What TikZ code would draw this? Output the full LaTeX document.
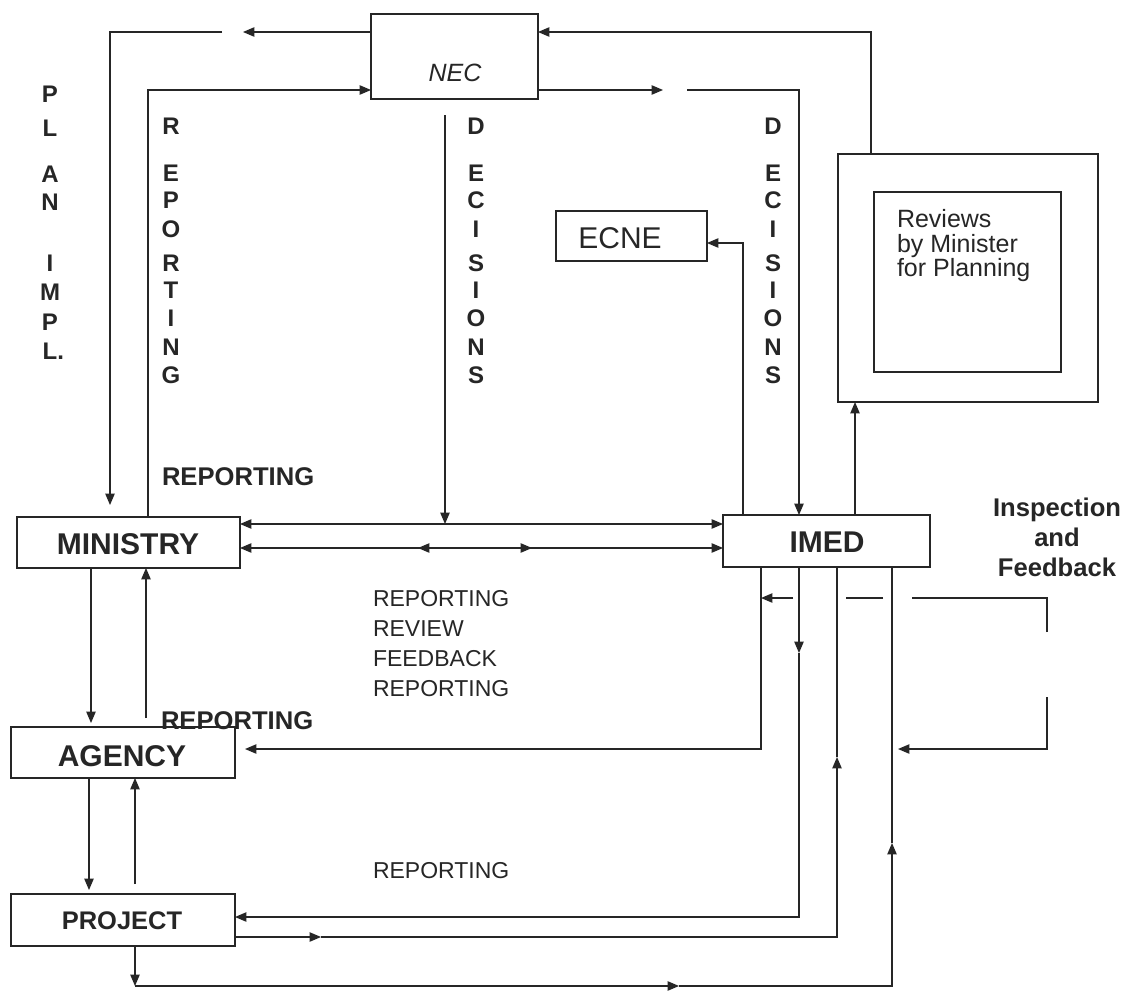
\documentclass[tikz,border=0pt]{standalone}
\usepackage{fontspec}
\setmainfont{Liberation Sans}
\usetikzlibrary{arrows.meta}
\definecolor{ink}{HTML}{262626}
\begin{document}
\begin{tikzpicture}[x=0.75pt,y=-0.75pt,
  line width=0.9pt, draw=ink,
  >={Triangle[length=8.5pt,width=7pt]},
  box/.style={draw=ink, line width=0.9pt, inner sep=0pt, outer sep=0pt},
  lbl/.style={text=ink, inner sep=0pt, outer sep=0pt},
  vlet/.style={lbl, anchor=base, font=\fontsize{18}{18}\selectfont\bfseries},
  bigb/.style={lbl, anchor=base, font=\fontsize{22.5}{27}\selectfont\bfseries},
  repb/.style={lbl, anchor=base west, font=\fontsize{19.2}{22}\selectfont\bfseries},
  midt/.style={lbl, anchor=base west, font=\fontsize{17.25}{20}\selectfont},
  revt/.style={lbl, anchor=base west, font=\fontsize{18.75}{20}\selectfont},
  insp/.style={lbl, anchor=base, font=\fontsize{19.2}{22}\selectfont\bfseries}
]
\useasboundingbox (0,0) rectangle (1127,992);
\fill[white] (0,0) rectangle (1127,992);

% ---- boxes
\node[box, minimum width=167*0.75pt, minimum height=85*0.75pt] (nec) at (454.5,56.5) {};
\node[box, minimum width=151*0.75pt, minimum height=50*0.75pt] (ecne) at (631.5,236) {};
\node[box, minimum width=260*0.75pt, minimum height=248*0.75pt] (reviews) at (968,278) {};
\node[box, minimum width=187*0.75pt, minimum height=180*0.75pt] (reviewsin) at (967.5,282) {};
\node[box, minimum width=223*0.75pt, minimum height=51*0.75pt] (ministry) at (128.5,542.5) {};
\node[box, minimum width=207*0.75pt, minimum height=52*0.75pt] (imed) at (826.5,541) {};
\node[box, minimum width=224*0.75pt, minimum height=51*0.75pt] (agency) at (123,752.5) {};
\node[box, minimum width=224*0.75pt, minimum height=52*0.75pt] (project) at (123,920) {};

% ---- box texts
\node[lbl, anchor=base, font=\fontsize{18.75}{20}\selectfont\itshape] (nect) at (455,81) {NEC};
\node[lbl, anchor=base, font=\fontsize{22.5}{27}\selectfont] (ecnet) at (620,248) {ECNE};
\node[revt] (rv1) at (897,227) {Reviews};
\node[revt] (rv2) at (897,252) {by Minister};
\node[revt] (rv3) at (897,276) {for Planning};
\node[bigb] (ministryt) at (128,554) {MINISTRY};
\node[bigb] (imedt) at (827,552) {IMED};
\node[bigb] (agencyt) at (122,766) {AGENCY};
\node[lbl, anchor=base, font=\fontsize{19.1}{22}\selectfont\bfseries] (projectt) at (122,929) {PROJECT};

% ---- vertical letter columns
\foreach \t/\y [count=\i] in {P/94,L/128,A/174,N/202,I/263,M/292,P/322}
  \node[vlet] (pl\i) at (50,\y+8.6) {\t};
\node[vlet] (pl8) at (50,359.6) {L\rlap{.}};
\foreach \t/\y [count=\i] in {R/126,E/173,P/200,O/229,R/263,T/290,I/318,N/347,G/375}
  \node[vlet] (rp\i) at (171,\y+8.6) {\t};
\foreach \t/\y [count=\i] in {D/126,E/173,C/200,I/229,S/263,I/290,O/318,N/347,S/375}
  \node[vlet] (dm\i) at (476,\y+8.6) {\t};
\foreach \t/\y [count=\i] in {D/126,E/173,C/200,I/229,S/263,I/290,O/318,N/347,S/375}
  \node[vlet] (dr\i) at (773,\y+8.6) {\t};

% ---- other labels
\node[repb] (rep1) at (162,485) {REPORTING};
\node[repb] (rep2) at (161,729) {REPORTING};
\node[midt] (mt1) at (373,606) {REPORTING};
\node[midt] (mt2) at (373,636) {REVIEW};
\node[midt] (mt3) at (373,666) {FEEDBACK};
\node[midt] (mt4) at (373,696) {REPORTING};
\node[midt] (mt5) at (373,878) {REPORTING};
\node[insp] (in1) at (1057,516) {Inspection};
\node[insp] (in2) at (1057,546) {and};
\node[insp] (in3) at (1057,576) {Feedback};

% ---- coordinates
\coordinate (tA) at (243,32); \coordinate (tB) at (222,32);
\coordinate (tC) at (110,32); \coordinate (tD) at (110,505);
\coordinate (rA) at (148,90);
\coordinate (dM) at (445,115); \coordinate (dM2) at (445,524);
\coordinate (nR1) at (663,90); \coordinate (nR2) at (687,90); \coordinate (nR3) at (799,90);
\coordinate (tR) at (871,32);
\coordinate (eA) at (743,243);
\coordinate (rv) at (855,400);
\coordinate (rvTip) at (855,408);
\coordinate (h1) at (0,524); \coordinate (h2) at (0,548);
\coordinate (hm) at (475,548); \coordinate (hl) at (418,548); \coordinate (hr) at (532,548);
\coordinate (m1) at (91,723); \coordinate (m2) at (146,718);
\coordinate (a1) at (89,890); \coordinate (a2) at (135,884);
\coordinate (i1) at (761,749); \coordinate (agIn) at (245,749);
\coordinate (i2) at (799,653); \coordinate (i2b) at (799,917);
\coordinate (p1) at (321,937); \coordinate (p1b) at (837,937); \coordinate (p1c) at (837,757);
\coordinate (b0) at (135,986); \coordinate (b1) at (679,986);
\coordinate (b2) at (892,986); \coordinate (b3) at (892,843);
\coordinate (k1) at (1047,632); \coordinate (k2) at (1047,598); \coordinate (k3) at (912,598);
\coordinate (k4) at (883,598); \coordinate (k5) at (846,598);
\coordinate (k6) at (793,598); \coordinate (k7) at (761,598);
\coordinate (q1) at (1047,697); \coordinate (q2) at (1047,749); \coordinate (q3) at (898,749);

% ---- connectors: top
\draw[->] (nec.west |- tA) -- (tA);
\draw[->] (tB) -- (tC) -- (tD);
\draw[->] (ministry.north -| rA) -- (rA) -- (nec.west |- rA);
\draw[->] (dM) -- (dM2);
\draw[->] (nec.east |- nR1) -- (nR1);
\draw[->] (nR2) -- (nR3) -- (imed.north -| nR3);
\draw[->] (reviews.north -| tR) -- (tR) -- (nec.east |- tR);
\draw[->] (imed.north -| eA) -- (eA) -- (ecne.east |- eA);
\draw[->] (imed.north -| rv) -- (reviews.south -| rv);

% ---- ministry <-> imed
\draw[<->] (ministry.east |- h1) -- (imed.west |- h1);
\draw[<->] (ministry.east |- h2) -- (imed.west |- h2);
\draw[->] (hm) -- (hl);
\draw[->] (hm) -- (hr);

% ---- left chain
\draw[->] (ministry.south -| m1) -- (m1);
\draw[->] (m2) -- (ministry.south -| m2);
\draw[->] (agency.south -| a1) -- (a1);
\draw[->] (a2) -- (agency.south -| a2);

% ---- imed lines below
\draw[->] (imed.south -| i1) -- (i1) -- (agIn);
\draw[->] (imed.south -| i2) -- (i2);
\draw[->] (i2) -- (i2b) -- (project.east |- i2b);
\draw[->] (project.east |- p1) -- (p1);
\draw[->] (p1) -- (p1b) -- (p1c);
\draw (p1c) -- (imed.south -| p1c);
\draw[->] (project.south -| b0) -- (b0);
\draw[->] (b0) -- (b1);
\draw[->] (b1) -- (b2) -- (b3);
\draw (b3) -- (imed.south -| b3);

% ---- inspection brackets
\draw (k1) -- (k2) -- (k3);
\draw (k4) -- (k5);
\draw[->] (k6) -- (k7);
\draw[->] (q1) -- (q2) -- (q3);
\end{tikzpicture}
\end{document}
